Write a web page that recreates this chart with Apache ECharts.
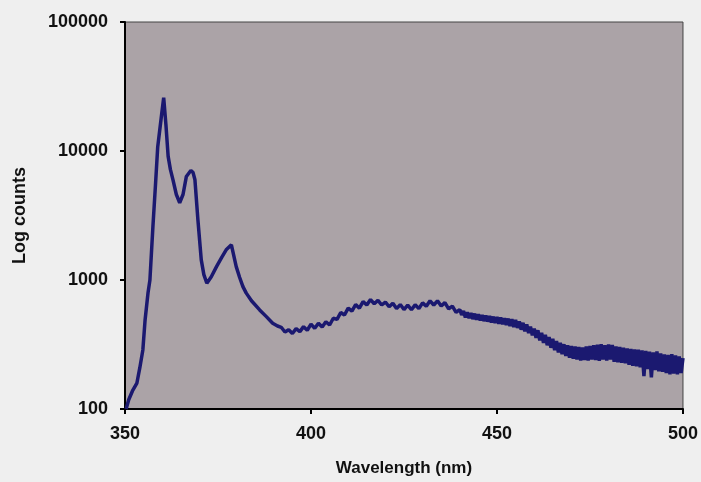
<!DOCTYPE html>
<html>
<head>
<meta charset="utf-8">
<script src="https://cdn.jsdelivr.net/npm/echarts@6/dist/echarts.min.js"></script>
<style>
  html, body { margin: 0; padding: 0; background: #efefef; }
  #chart { width: 701px; height: 482px; }
</style>
</head>
<body>
<div id="chart"></div>
<script>
// wavelength (nm) (denser in the noisy tail)
const wavelengths = [
  350.3, 351, 352, 353.2, 354, 354.8, 355.4, 356.2, 356.7, 357.5, 358.2, 358.8, 359.9, 360.4,
  361.0, 361.6, 362.2, 362.9, 363.8, 364.7, 365.6, 366.5, 367.7, 368.3, 368.8, 369.6, 370.5,
  371.2, 372.0, 373.2, 374.6, 376, 377.2, 378.6, 379.9, 380.8, 381.7, 382.6, 384, 386.2, 388,
  389.7, 391,
  392, 393, 394, 395, 396, 397, 398, 399, 400, 401, 402, 403, 404, 405, 406, 407, 408, 409,
  410, 411, 412, 413, 414, 415, 416, 417, 418, 419, 420, 421, 422, 423, 424, 425, 426, 427,
  428, 429, 430, 431, 432, 433, 434, 435, 436, 437, 438, 439, 440,
  440.5, 441, 441.5, 442, 442.5, 443, 443.5, 444, 444.5, 445, 445.5, 446, 446.5, 447, 447.5,
  448, 448.5, 449, 449.5, 450, 450.5, 451, 451.5, 452, 452.5, 453, 453.5, 454, 454.5, 455,
  455.5, 456, 456.5, 457, 457.5, 458, 458.5, 459, 459.5, 460, 460.5, 461, 461.5, 462, 462.5,
  463, 463.5, 464, 464.5, 465, 465.5, 466, 466.5, 467, 467.5, 468, 468.5, 469, 469.5, 470,
  470.5, 471, 471.5, 472, 472.5, 473, 473.5, 474, 474.5, 475, 475.5, 476, 476.5, 477, 477.5,
  478, 478.5, 479, 479.5, 480, 480.5, 481, 481.5, 482, 482.5, 483, 483.5, 484, 484.5, 485,
  485.5, 486, 486.5, 487, 487.5, 488, 488.5, 489, 489.5, 490, 490.5, 491, 491.5, 492, 492.5,
  493, 493.5, 494, 494.5, 495, 495.5, 496, 496.5, 497, 497.5, 498, 498.5, 499, 499.5, 500
];
// detector counts
const counts = [
  100, 118, 138, 159, 210, 287, 490, 800, 1000, 2580, 5500, 10800, 19800, 25900,
  16000, 9080, 7200, 5980, 4600, 3970, 4600, 6350, 7070, 6800, 5980, 2930, 1432,
  1100, 944, 1060, 1270, 1500, 1714, 1874, 1270, 1050, 889, 791, 690, 586, 520,
  462, 440,
  430, 395, 412, 385, 420, 398, 435, 408, 455, 422, 462, 432, 475, 448, 505, 495, 560, 535,
  605, 575, 645, 605, 680, 640, 705, 655, 695, 640, 675, 620, 660, 600, 645, 590, 638, 588,
  642, 600, 665, 625, 690, 640, 690, 628, 668, 598, 628, 562, 590,
  535, 575, 512, 562, 505, 555, 498, 548, 492, 542, 486, 536, 480, 530, 476,
  526, 468, 520, 464, 516, 458, 512, 454, 506, 448, 502, 440, 496, 432, 490,
  425, 478, 412, 466, 400, 452, 388, 436, 372, 420, 356, 408, 340, 390, 325,
  376, 312, 362, 298, 350, 286, 336, 274, 326, 266, 318, 258, 312, 250, 308,
  245, 305, 242, 302, 238, 300, 240, 305, 238, 308, 242, 312, 240, 315, 236,
  318, 242, 312, 238, 316, 242, 314, 232, 306, 230, 302, 228, 298, 226, 295,
  220, 292, 216, 290, 214, 288, 210, 285, 180, 282, 204, 278, 176, 275, 200,
  280, 196, 270, 194, 265, 190, 262, 186, 266, 188, 260, 186, 255, 190, 248
];
const xTicks = [350, 400, 450, 500];
const yTicks = [100, 1000, 10000, 100000];

const points = wavelengths.map((w, i) => [w, counts[i]]);

const labelFont = { color: '#111', fontWeight: 'bold', fontFamily: 'Liberation Sans' };

const chart = echarts.init(document.getElementById('chart'));
chart.setOption({
  backgroundColor: '#efefef',
  animation: false,
  grid: {
    left: 125,
    right: 16,
    top: 22,
    bottom: 73,
    show: true,
    backgroundColor: '#aba3a7',
    borderColor: '#444',
    borderWidth: 1,
  },
  xAxis: {
    type: 'value',
    min: xTicks[0],
    max: xTicks[xTicks.length - 1],
    interval: 50,
    name: 'Wavelength (nm)',
    nameLocation: 'middle',
    nameGap: 51,
    nameTextStyle: { ...labelFont, fontSize: 17 },
    axisLine: { lineStyle: { color: '#000', width: 2 } },
    axisTick: { show: true, length: 5, lineStyle: { color: '#000', width: 2 } },
    axisLabel: { ...labelFont, fontSize: 18, margin: 16, formatter: (v) => String(v) },
    splitLine: { show: false },
  },
  yAxis: {
    type: 'log',
    logBase: 10,
    min: yTicks[0],
    max: yTicks[yTicks.length - 1],
    name: 'Log counts',
    nameLocation: 'middle',
    nameGap: 96,
    nameTextStyle: { ...labelFont, fontSize: 18 },
    axisLine: { show: true, lineStyle: { color: '#000', width: 2 } },
    axisTick: { show: true, length: 5, lineStyle: { color: '#000', width: 2 } },
    axisLabel: { ...labelFont, fontSize: 18, margin: 17, formatter: (v) => String(v) },
    splitLine: { show: false },
  },
  series: [
    {
      type: 'line',
      data: points,
      showSymbol: false,
      lineStyle: { color: '#1b1970', width: 3.5 },
    },
  ],
});
</script>
</body>
</html>
